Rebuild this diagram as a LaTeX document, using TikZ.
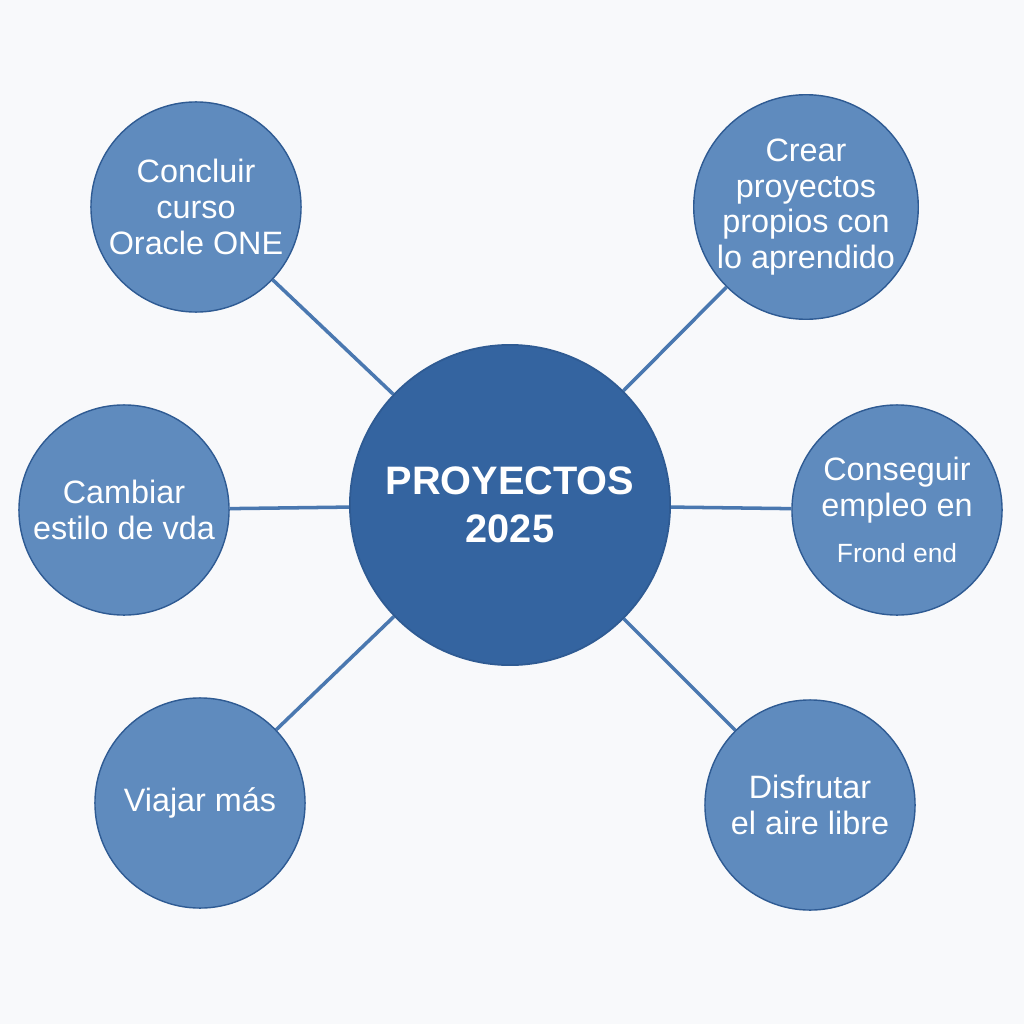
\documentclass[tikz,border=0pt]{standalone}
\usepackage{fontspec}
\setmainfont{Liberation Sans}
\usetikzlibrary{backgrounds}
\definecolor{bg}{HTML}{F8F9FB}
\definecolor{hub}{HTML}{3464A0}
\definecolor{sat}{HTML}{5F8BBE}
\definecolor{edge}{HTML}{4A78B0}
\definecolor{ring}{HTML}{2F5B93}
\begin{document}
\begin{tikzpicture}[x=0.01cm,y=-0.01cm,
  satnode/.style={circle,fill=sat,draw=ring,line width=0.4pt,minimum size=2.1cm,inner sep=0pt,text=white,align=center,font=\fontsize{9.2}{10.2}\selectfont},
  hubnode/.style={circle,fill=hub,draw=ring,line width=0.5pt,minimum size=3.2cm,inner sep=0pt,text=white,align=center,font=\bfseries\fontsize{11.3}{13.5}\selectfont},
  link/.style={draw=edge,line width=1pt}]
\node[hubnode] (c) at (510,505) {PROYECTOS\\2025};
\node[satnode] (tl) at (196,207) {Concluir\\curso\\Oracle ONE};
\node[satnode] (tr) at (806,207) {Crear\\proyectos\\propios con\\lo aprendido};
\node[satnode] (l) at (124,510) {Cambiar\\estilo de vda};
\node[satnode] (r) at (897,510) {Conseguir\\empleo en\\[3pt]{\fontsize{7.5}{9}\selectfont Frond end}};
\node[satnode] (bl) at (200,803) {Viajar más};
\node[satnode] (br) at (810,805) {Disfrutar\\el aire libre};
\begin{scope}[on background layer]
\fill[bg] (0,0) rectangle (1024,1024);
\foreach \n in {tl,tr,l,r,bl,br} {\draw[link] (c) -- (\n);}
\end{scope}
\useasboundingbox (0,0) rectangle (1024,1024);
\end{tikzpicture}
\end{document}
